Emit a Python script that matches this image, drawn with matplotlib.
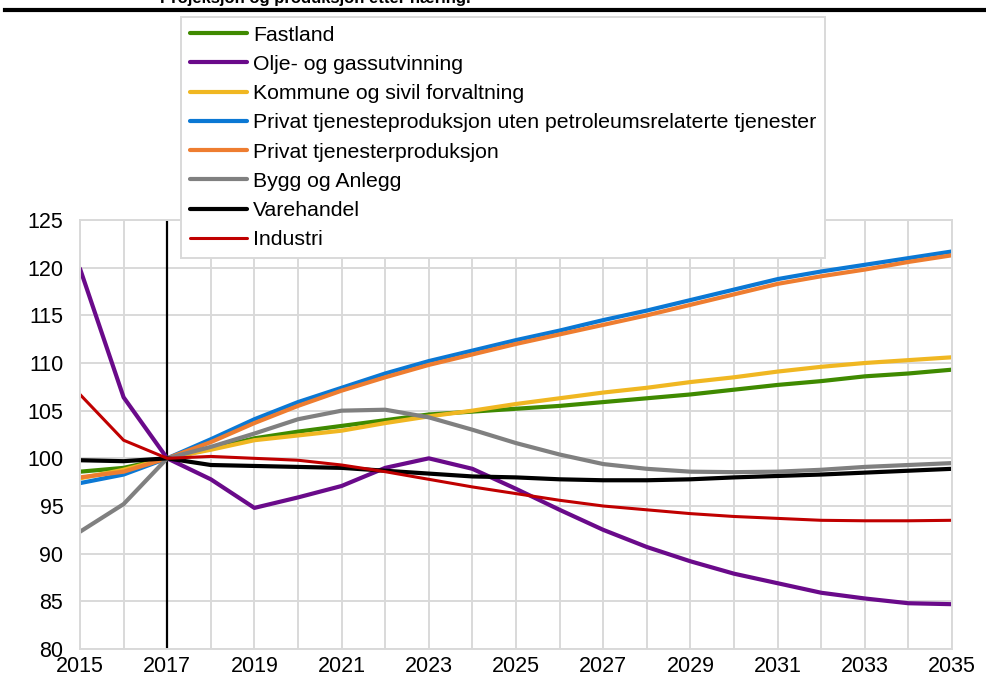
import matplotlib.pyplot as plt
import numpy as np

plt.rcParams['font.family'] = ['Liberation Sans', 'DejaVu Sans']

# data, index 2017 = 100
years = np.arange(2015, 2036)
fastland = [98.6, 99.0, 100.0, 101.0, 102.1, 102.8, 103.4, 104.0, 104.6, 104.9, 105.2,
            105.5, 105.9, 106.3, 106.7, 107.2, 107.7, 108.1, 108.6, 108.9, 109.3]
olje = [119.9, 106.4, 100.0, 97.8, 94.8, 95.9, 97.1, 99.0, 100.0, 98.9, 96.8,
        94.6, 92.5, 90.7, 89.2, 87.9, 86.9, 85.9, 85.3, 84.8, 84.7]
kommune = [97.9, 98.8, 100.0, 100.9, 101.9, 102.4, 102.9, 103.7, 104.4, 105.0, 105.7,
           106.3, 106.9, 107.4, 108.0, 108.5, 109.1, 109.6, 110.0, 110.3, 110.6]
privat_uten = [97.4, 98.3, 100.0, 102.0, 104.1, 105.9, 107.4, 108.9, 110.2, 111.3, 112.4,
               113.4, 114.5, 115.5, 116.6, 117.7, 118.8, 119.6, 120.3, 121.0, 121.7]
privat = [98.0, 98.6, 100.0, 101.7, 103.7, 105.5, 107.1, 108.5, 109.8, 110.9, 112.0,
          113.0, 114.0, 115.0, 116.1, 117.2, 118.3, 119.1, 119.8, 120.6, 121.3]
bygg = [92.3, 95.2, 100.0, 101.2, 102.6, 104.1, 105.0, 105.1, 104.3, 103.0, 101.6,
        100.4, 99.4, 98.9, 98.6, 98.55, 98.6, 98.8, 99.1, 99.3, 99.5]
varehandel = [99.8, 99.7, 100.0, 99.3, 99.2, 99.1, 99.0, 98.7, 98.4, 98.1, 98.0,
              97.8, 97.7, 97.7, 97.8, 98.0, 98.15, 98.3, 98.5, 98.7, 98.9]
industri = [106.7, 101.9, 100.0, 100.2, 100.0, 99.8, 99.3, 98.6, 97.8, 97.0, 96.3,
            95.6, 95.0, 94.6, 94.2, 93.9, 93.7, 93.5, 93.45, 93.45, 93.5]

series = [
    ("Fastland", fastland, "#3f8a00", 3.0),
    ("Olje- og gassutvinning", olje, "#6a0a8a", 3.0),
    ("Kommune og sivil forvaltning", kommune, "#f0b722", 3.0),
    ("Privat tjenesteproduksjon uten petroleumsrelaterte tjenester", privat_uten, "#0b78d4", 3.0),
    ("Privat tjenesterproduksjon", privat, "#ee7d30", 3.0),
    ("Bygg og Anlegg", bygg, "#808080", 3.0),
    ("Varehandel", varehandel, "#000000", 3.0),
    ("Industri", industri, "#c00000", 2.2),
]

fig = plt.figure(figsize=(9.87, 6.77), dpi=100)
ax = fig.add_axes([80 / 987, 1 - 649 / 677, 872 / 987, 429 / 677])

for name, vals, col, lw in series:
    ax.plot(years, vals, color=col, linewidth=lw, label=name, solid_capstyle='round')

# forecast start
ax.axvline(2017, color='black', linewidth=1.6, zorder=1.5)

ax.set_xlim(2015, 2035)
ax.set_ylim(80, 125)
ax.set_xticks(years, minor=True)
ax.set_xticks(np.arange(2015, 2036, 2))
ax.set_yticks(np.arange(80, 126, 5))
ax.grid(True, which='both', color='#d9d9d9', linewidth=1.4)
ax.set_axisbelow(True)
ax.tick_params(which='both', length=0)
ax.tick_params(axis='y', labelsize=15.5, pad=12)
ax.tick_params(axis='x', labelsize=15.5, pad=5)
for sp in ax.spines.values():
    sp.set_color('#d9d9d9')
    sp.set_linewidth(1.4)

leg = ax.legend(loc='upper left', bbox_to_anchor=(0.1158, 1.473), fontsize=15.35,
                frameon=True, fancybox=False, edgecolor='#d9d9d9', framealpha=1,
                handlelength=2.7, handletextpad=0.28, labelspacing=0.48,
                borderpad=0.4, borderaxespad=0)
leg.get_frame().set_linewidth(1.4)

# title cut at the top and black rule
fig.text(160 / 987, 1 - 3 / 677, "Projeksjon og produksjon etter næring.",
         fontsize=12, fontweight='bold', va='baseline', ha='left')
fig.add_artist(plt.Line2D([5 / 987, 1], [1 - 10 / 677, 1 - 10 / 677],
                          color='black', linewidth=3, transform=fig.transFigure))

fig.savefig("out.png", dpi=100)
